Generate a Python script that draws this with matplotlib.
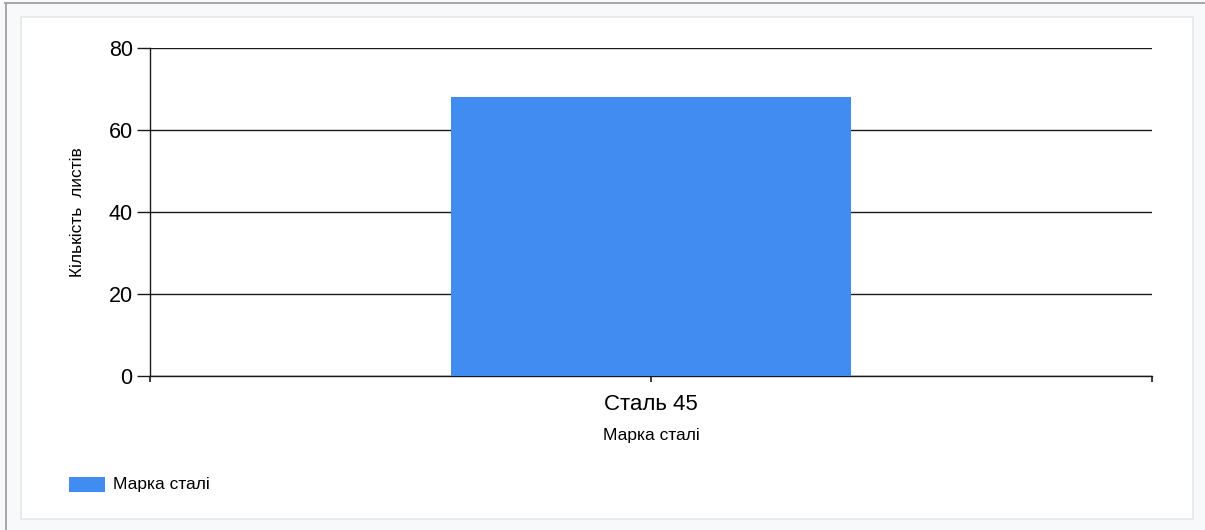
import matplotlib.pyplot as plt
from matplotlib.patches import Rectangle
from matplotlib.lines import Line2D

categories = ['Сталь 45']
counts = [68]
series_name = 'Марка сталі'
y_ticks = [0, 20, 40, 60, 80]

plt.rcParams['font.family'] = ['Liberation Sans', 'DejaVu Sans']

W, H = 1205, 530
fig = plt.figure(figsize=(W / 100, H / 100), dpi=100)
fig.patch.set_facecolor('#f8f9fa')

def fx(px):
    return px / W

def fy(py):
    return 1 - py / H

# outer frame lines (top and left)
fig.add_artist(Line2D([fx(5), 1], [fy(2.5), fy(2.5)], transform=fig.transFigure,
                      color='#9a9a9a', lw=1.2, zorder=-10))
fig.add_artist(Line2D([fx(5.5), fx(5.5)], [0, fy(2.5)], transform=fig.transFigure,
                      color='#9a9a9a', lw=1.2, zorder=-10))

# white panel behind the chart
fig.add_artist(Rectangle((fx(21), fy(519)), fx(1193) - fx(21), fy(17) - fy(519),
                         transform=fig.transFigure, facecolor='white',
                         edgecolor='#e6e6e6', lw=1.2, zorder=-10))

ax = fig.add_axes([fx(150), fy(376), fx(1152) - fx(150), fy(48) - fy(376)])
ax.set_facecolor('none')

x = list(range(len(categories)))
ax.bar(x, counts, width=0.4, color='#418cf0', zorder=3)

ax.set_xlim(-0.5, len(categories) - 0.5)
ax.set_ylim(0, 80)
ax.set_yticks(y_ticks)
ax.yaxis.grid(True, color='#1a1a1a', lw=1.0, zorder=1)
ax.set_axisbelow(True)

ax.set_xticks(x)
ax.set_xticklabels(categories, fontsize=16)
ax.set_xticks([-0.5, len(categories) - 0.5], minor=True)
ax.tick_params(axis='x', which='both', length=4, width=1.2, color='#1a1a1a', pad=9)
ax.tick_params(axis='y', length=9.5, width=1, color='#1a1a1a', labelsize=15.5, pad=3)

for side in ['top', 'right']:
    ax.spines[side].set_visible(False)
for side in ['left', 'bottom']:
    ax.spines[side].set_color('#1a1a1a')
    ax.spines[side].set_linewidth(1.0)

ax.set_xlabel('Марка сталі', fontsize=12.5, labelpad=9)
ax.set_ylabel('Кількість  листів', fontsize=12.5, labelpad=17)

# legend
fig.add_artist(Rectangle((fx(69), fy(492)), fx(105) - fx(69), fy(477) - fy(492),
                         transform=fig.transFigure, facecolor='#418cf0', edgecolor='none'))
fig.text(fx(113), fy(485), series_name, fontsize=12.5, va='center', ha='left')

fig.savefig('out.png', dpi=100, facecolor=fig.get_facecolor())
